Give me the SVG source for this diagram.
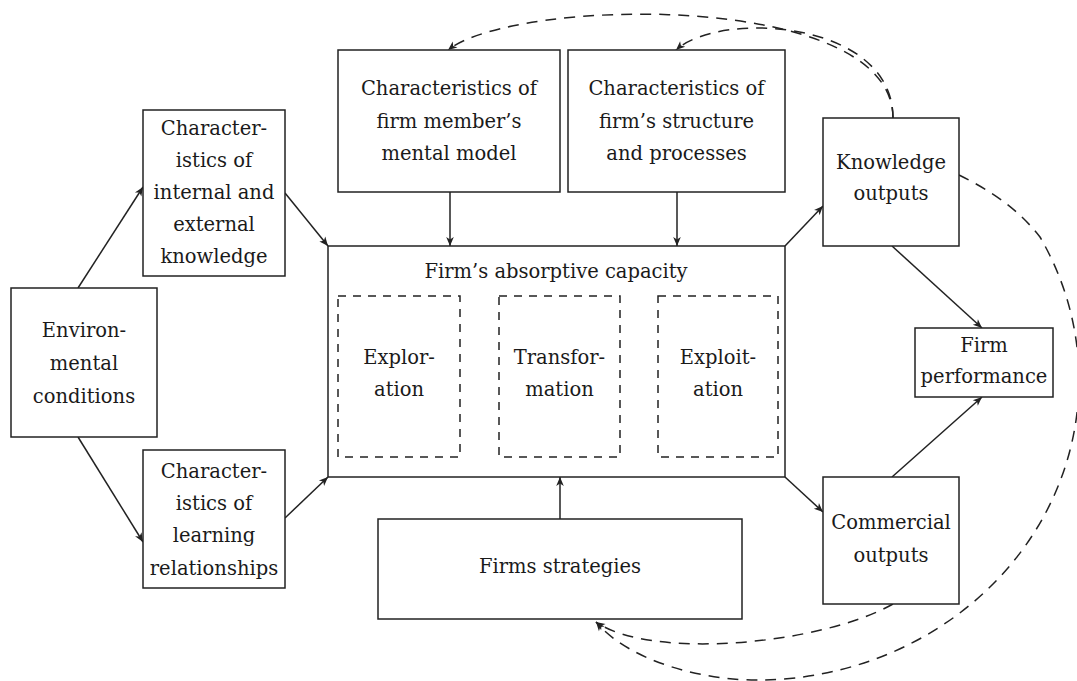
<svg xmlns="http://www.w3.org/2000/svg" width="1077" height="681" viewBox="0 0 1077 681">
  <style>
    .box { fill: #fff; stroke: #222; stroke-width: 1.5; }
    .dbox { fill: none; stroke: #222; stroke-width: 1.5; stroke-dasharray: 8 7; }
    .lbl { font-family: "DejaVu Serif", serif; font-size: 19.5px; fill: #1a1a1a; text-anchor: middle; }
    .edge { fill: none; stroke: #222; stroke-width: 1.5; marker-end: url(#arr); }
    .dedge { fill: none; stroke: #222; stroke-width: 1.5; stroke-dasharray: 5 5; marker-end: url(#arr); }
    .fb { fill: none; stroke: #222; stroke-width: 1.5; stroke-dasharray: 11 8; marker-end: url(#arr); }
  </style>
  <defs>
    <marker id="arr" viewBox="-10 -5 11 10" refX="0" refY="0" markerWidth="11" markerHeight="10" markerUnits="userSpaceOnUse" orient="auto">
      <path d="M0,0 L-9,-3.8 L-6.6,0 L-9,3.8 Z" fill="#222"/>
    </marker>
  </defs>
  <rect width="1077" height="681" fill="#fff"/>

  <!-- connectors -->
  <g id="connectors">
    <path class="edge" d="M78,288 L143,187"/>
    <path class="edge" d="M78,437 L143,542"/>
    <path class="edge" d="M285,193 L328,246"/>
    <path class="edge" d="M285,518 L328,477"/>
    <path class="edge" d="M450,192 L450,246"/>
    <path class="edge" d="M677,192 L677,246"/>
    <path class="edge" d="M785,246 L823,206"/>
    <path class="edge" d="M785,477 L823,512"/>
    <path class="edge" d="M892,246 L982,328"/>
    <path class="edge" d="M892,477 L982,397"/>
    <path class="edge" d="M560,519 L560,477"/>
    <path class="dedge" d="M460,373 L499,373"/>
    <path class="dedge" d="M620,373 L658,373"/>
    <!-- feedback loops -->
    <path class="fb" d="M893,118 C893,-10 515,-3 448,50"/>
    <path class="fb" d="M893,118 C893,20 720,10 676,50"/>
    <path class="fb" d="M893,604 C820,645 650,660 596,622"/>
    <path class="fb" d="M959,175 C985,188 1015,205 1040,237 A322,300 0 0,1 760,680 C705,681 630,662 596,622"/>
  </g>

  <g id="env">
    <rect class="box" x="11" y="288" width="146" height="149"/>
    <text class="lbl" x="84" y="337">Environ-</text>
    <text class="lbl" x="84" y="370">mental</text>
    <text class="lbl" x="84" y="403">conditions</text>
  </g>
  <g id="knowledge-chars">
    <rect class="box" x="143" y="110" width="142" height="166"/>
    <text class="lbl" x="214" y="135">Character-</text>
    <text class="lbl" x="214" y="167">istics of</text>
    <text class="lbl" x="214" y="199">internal and</text>
    <text class="lbl" x="214" y="231">external</text>
    <text class="lbl" x="214" y="263">knowledge</text>
  </g>
  <g id="learning-chars">
    <rect class="box" x="143" y="450" width="142" height="138"/>
    <text class="lbl" x="214" y="478">Character-</text>
    <text class="lbl" x="214" y="510">istics of</text>
    <text class="lbl" x="214" y="542">learning</text>
    <text class="lbl" x="214" y="575">relationships</text>
  </g>
  <g id="mental-model">
    <rect class="box" x="338" y="50" width="222" height="142"/>
    <text class="lbl" x="449" y="95">Characteristics of</text>
    <text class="lbl" x="449" y="128">firm member’s</text>
    <text class="lbl" x="449" y="160">mental model</text>
  </g>
  <g id="structure">
    <rect class="box" x="568" y="50" width="217" height="142"/>
    <text class="lbl" x="676.5" y="95">Characteristics of</text>
    <text class="lbl" x="676.5" y="128">firm’s structure</text>
    <text class="lbl" x="676.5" y="160">and processes</text>
  </g>
  <g id="absorptive-capacity">
    <rect class="box" x="328" y="246" width="457" height="231"/>
    <text class="lbl" x="556" y="278">Firm’s absorptive capacity</text>
  </g>
  <g id="exploration">
    <rect class="dbox" x="338" y="296" width="122" height="161"/>
    <text class="lbl" x="399" y="364">Explor-</text>
    <text class="lbl" x="399" y="396">ation</text>
  </g>
  <g id="transformation">
    <rect class="dbox" x="499" y="296" width="121" height="161"/>
    <text class="lbl" x="559.5" y="364">Transfor-</text>
    <text class="lbl" x="559.5" y="396">mation</text>
  </g>
  <g id="exploitation">
    <rect class="dbox" x="658" y="296" width="120" height="161"/>
    <text class="lbl" x="718" y="364">Exploit-</text>
    <text class="lbl" x="718" y="396">ation</text>
  </g>
  <g id="knowledge-outputs">
    <rect class="box" x="823" y="118" width="136" height="128"/>
    <text class="lbl" x="891" y="169">Knowledge</text>
    <text class="lbl" x="891" y="200">outputs</text>
  </g>
  <g id="firm-performance">
    <rect class="box" x="915" y="328" width="138" height="69"/>
    <text class="lbl" x="984" y="352">Firm</text>
    <text class="lbl" x="984" y="383">performance</text>
  </g>
  <g id="commercial-outputs">
    <rect class="box" x="823" y="477" width="136" height="127"/>
    <text class="lbl" x="891" y="529">Commercial</text>
    <text class="lbl" x="891" y="562">outputs</text>
  </g>
  <g id="strategies">
    <rect class="box" x="378" y="519" width="364" height="100"/>
    <text class="lbl" x="560" y="573">Firms strategies</text>
  </g>
</svg>
